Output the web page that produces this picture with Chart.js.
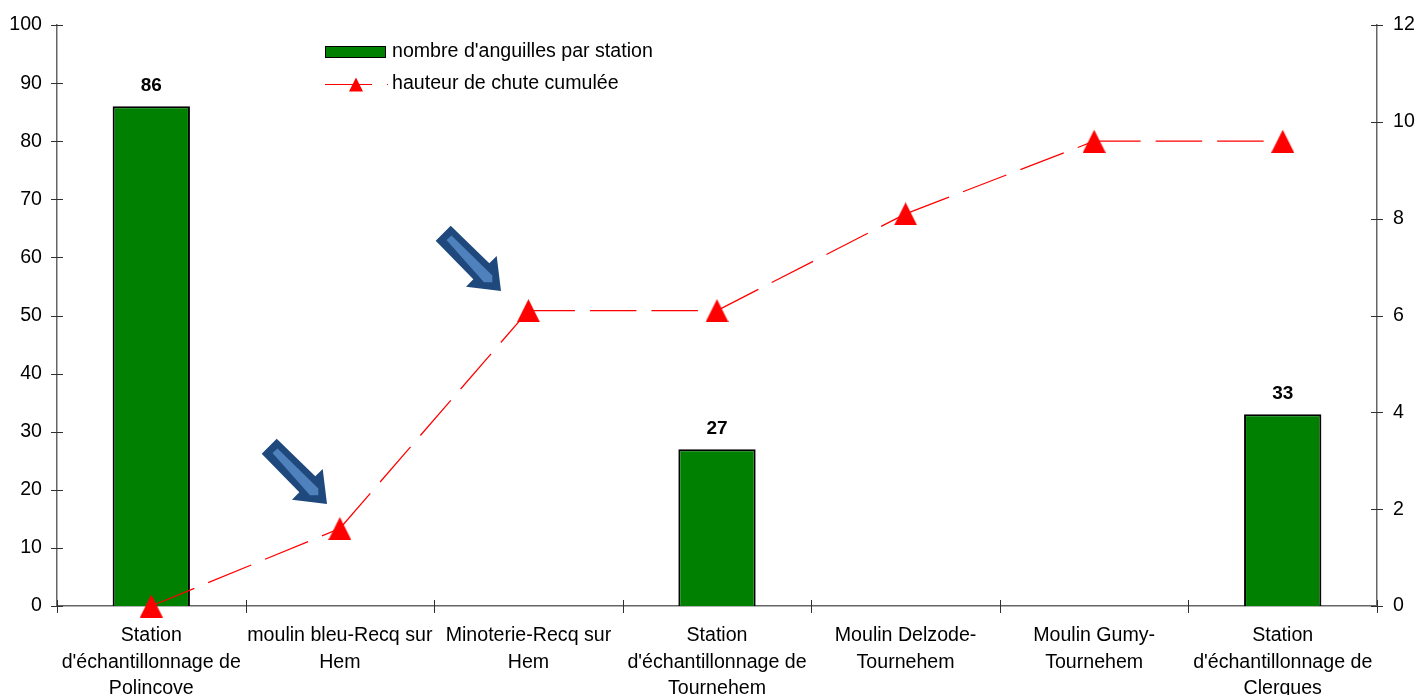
<!DOCTYPE html>
<html>
<head>
<meta charset="utf-8">
<title>Anguilles par station</title>
<script src="https://cdn.jsdelivr.net/npm/chart.js@4"></script>
<style>
  html, body { margin: 0; padding: 0; background: #fff; }
  #wrap { position: relative; width: 1415px; height: 695px; overflow: hidden; }
</style>
</head>
<body>
<div id="wrap"><canvas id="chart" width="1415" height="695"></canvas></div>
<script>
// ========== DATA ==========
const stations = [
    ['Station', "d'échantillonnage de", 'Polincove'],
    ['moulin bleu-Recq sur', 'Hem'],
    ['Minoterie-Recq sur', 'Hem'],
    ['Station', "d'échantillonnage de", 'Tournehem'],
    ['Moulin Delzode-', 'Tournehem'],
    ['Moulin Gumy-', 'Tournehem'],
    ['Station', "d'échantillonnage de", 'Clerques']
];
const anguilles = [86, null, null, 27, null, null, 33];
const hauteur = [0, 1.6, 6.1, 6.1, 8.1, 9.6, 9.6];
const legendBar = "nombre d'anguilles par station";
const legendLine = 'hauteur de chute cumulée';

const FONT = "'Liberation Sans', Arial, sans-serif";
const GREEN = '#008000', RED = '#ff0000', AXIS = '#666666';

// arrow outline, relative to its tip
const ARROW_OUT = [[0, 0], [-35, -4.3], [-27.7, -11.7], [-65.3, -50.3], [-50.3, -65.3], [-11.7, -27.7], [-4.3, -35]];
const ARROW_IN = [[-8.7, -8.7], [-17, -8.7], [-54.5, -51], [-49.5, -55.5], [-8.7, -15.5]];
const ARROW_TIPS = [[501, 291], [327, 504]];

function poly(ctx, pts, x, y, fill) {
    ctx.beginPath();
    pts.forEach((p, i) => i ? ctx.lineTo(x + p[0], y + p[1]) : ctx.moveTo(x + p[0], y + p[1]));
    ctx.closePath();
    ctx.fillStyle = fill;
    ctx.fill();
}

// chart.js triangles sit on their centroid, the original is centred on its box
function triangleMarker(size) {
    const c = document.createElement('canvas');
    c.width = size;
    c.height = size;
    poly(c.getContext('2d'), [[size / 2, 0], [size, size], [0, size]], 0, 0, RED);
    return c;
}

// ticks cross the axes, as in the spreadsheet original
const crossTicks = {
    id: 'crossTicks',
    afterDatasetsDraw(chart) {
        const { ctx, scales } = chart;
        ctx.save();
        ctx.strokeStyle = '#303030';
        ctx.lineWidth = 1;
        ctx.beginPath();
        scales.y.ticks.forEach((t, i) => {
            const py = Math.round(scales.y.getPixelForTick(i)) + 0.5;
            ctx.moveTo(scales.y.right - 6, py); ctx.lineTo(scales.y.right + 6, py);
        });
        scales.y2.ticks.forEach((t, i) => {
            const py = Math.round(scales.y2.getPixelForTick(i)) + 0.5;
            ctx.moveTo(scales.y2.left - 6, py); ctx.lineTo(scales.y2.left + 6, py);
        });
        const step = scales.x.width / stations.length;
        for (let i = 0; i <= stations.length; i++) {
            const px = Math.round(scales.x.left + i * step) + 0.5;
            ctx.moveTo(px, scales.x.top - 6); ctx.lineTo(px, scales.x.top + 7);
        }
        ctx.stroke();
        ctx.restore();
    }
};

// value labels above the bars
const barLabels = {
    id: 'barLabels',
    afterDatasetsDraw(chart) {
        const { ctx } = chart;
        ctx.save();
        ctx.font = 'bold 19px ' + FONT;
        ctx.fillStyle = '#000';
        ctx.textAlign = 'center';
        ctx.textBaseline = 'alphabetic';
        chart.getDatasetMeta(1).data.forEach((bar, i) => {
            if (anguilles[i] === null) return;
            ctx.fillText(String(anguilles[i]), bar.x, bar.y - 15);
        });
        ctx.restore();
    }
};

// legend sits inside the plot area
const insideLegend = {
    id: 'insideLegend',
    afterDraw(chart) {
        const { ctx } = chart;
        ctx.save();
        ctx.fillStyle = GREEN;
        ctx.strokeStyle = '#000';
        ctx.lineWidth = 1;
        ctx.fillRect(325.5, 46.5, 60, 11);
        ctx.strokeRect(325.5, 46.5, 60, 11);
        ctx.strokeStyle = RED;
        ctx.beginPath();
        ctx.moveTo(325, 84.5); ctx.lineTo(372, 84.5);
        ctx.moveTo(387, 84.5); ctx.lineTo(388, 84.5);
        ctx.stroke();
        poly(ctx, [[0, -7], [7, 7], [-7, 7]], 356, 84.5, RED);
        ctx.fillStyle = '#000';
        ctx.font = '19.6px ' + FONT;
        ctx.textAlign = 'left';
        ctx.textBaseline = 'alphabetic';
        ctx.fillText(legendBar, 392, 57);
        ctx.fillText(legendLine, 392, 89);
        ctx.restore();
    }
};

const arrows = {
    id: 'arrows',
    afterDraw(chart) {
        const { ctx } = chart;
        ctx.save();
        ARROW_TIPS.forEach(t => {
            poly(ctx, ARROW_OUT, t[0], t[1], '#1f497d');
            poly(ctx, ARROW_IN, t[0], t[1], '#4f81bd');
        });
        ctx.restore();
    }
};

new Chart(document.getElementById('chart'), {
    data: {
        labels: stations,
        datasets: [
            {
                type: 'line', label: legendLine, data: hauteur, yAxisID: 'y2', order: 1,
                borderColor: RED, borderWidth: 1.25, borderDash: [46.5, 15], clip: false,
                // a new style per segment makes the dash pattern restart at every point
                segment: { borderDashOffset: c => c.p0DataIndex * 1e-6 },
                pointStyle: triangleMarker(23), pointRadius: 12, tension: 0
            },
            {
                type: 'bar', label: legendBar, data: anguilles, yAxisID: 'y', order: 2,
                backgroundColor: GREEN, borderColor: '#000', borderWidth: 2,
                barPercentage: 0.41, categoryPercentage: 1
            }
        ]
    },
    options: {
        responsive: false,
        animation: false,
        layout: { padding: { top: 25, left: 0, right: 0, bottom: 0 } },
        plugins: { legend: { display: false }, tooltip: { enabled: false } },
        scales: {
            x: {
                offset: true,
                grid: { display: false },
                border: { color: AXIS, width: 1.5 },
                afterFit(s) { s.height = 89; },
                ticks: { color: '#000', font: { family: FONT, size: 19.6, lineHeight: 1.33 }, maxRotation: 0, autoSkip: false, padding: 9 }
            },
            y: {
                position: 'left', min: 0, max: 100,
                grid: { display: false },
                border: { color: AXIS, width: 1.5 },
                afterFit(s) { s.width = 57; },
                ticks: { stepSize: 10, color: '#000', font: { family: FONT, size: 19.6 }, padding: 7 }
            },
            y2: {
                position: 'right', min: 0, max: 12,
                grid: { display: false },
                border: { color: AXIS, width: 1.5 },
                afterFit(s) { s.width = 38; },
                ticks: { stepSize: 2, color: '#000', font: { family: FONT, size: 19.6 }, padding: 8 }
            }
        }
    },
    plugins: [crossTicks, barLabels, insideLegend, arrows]
});
</script>
</body>
</html>
